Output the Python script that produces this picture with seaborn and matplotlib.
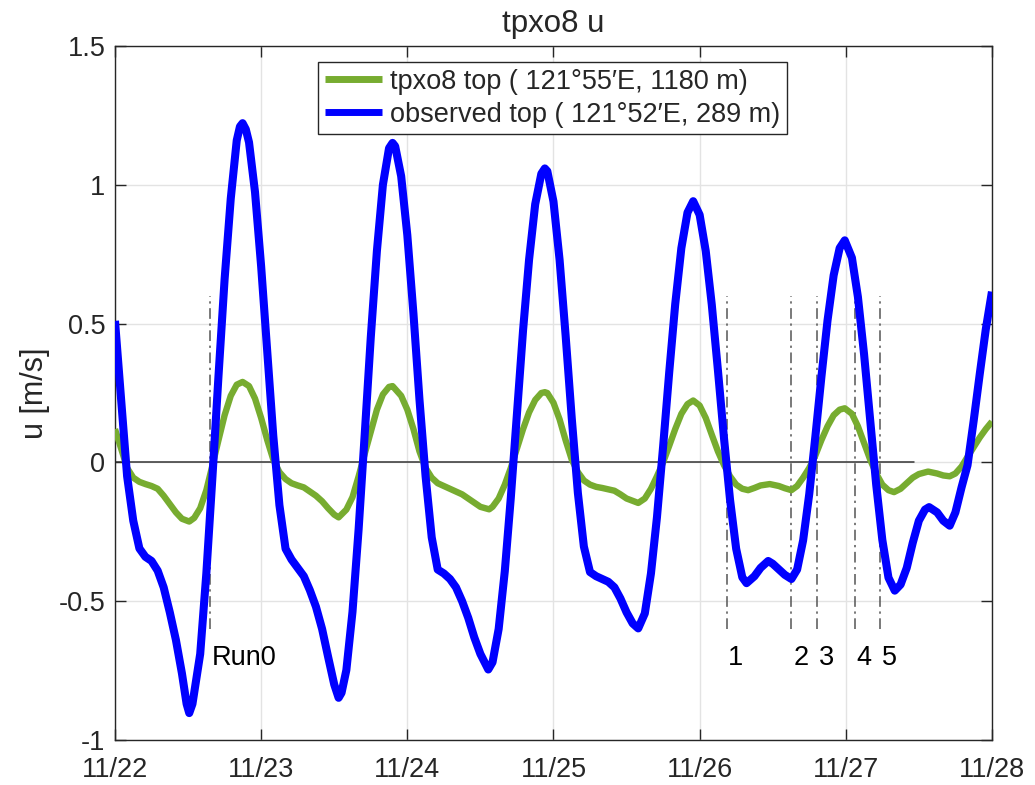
import numpy as np
import pandas as pd
import matplotlib
matplotlib.use("Agg")
import matplotlib.pyplot as plt
import seaborn as sns

# ---------------- data (days since 11/22 00:00) ----------------
obs_t = [0.000, 0.040, 0.083, 0.125, 0.167, 0.208, 0.250, 0.292, 0.333, 0.375,
         0.417, 0.458, 0.490, 0.508, 0.530, 0.583, 0.625, 0.667, 0.708, 0.750,
         0.792, 0.833, 0.855, 0.873, 0.895, 0.917, 0.958, 1.000, 1.042, 1.083,
         1.125, 1.167, 1.208, 1.250, 1.292, 1.333, 1.375, 1.417, 1.458, 1.500,
         1.530, 1.550, 1.583, 1.625, 1.667, 1.708, 1.750, 1.792, 1.833, 1.875,
         1.899, 1.917, 1.958, 2.000, 2.042, 2.083, 2.125, 2.167, 2.208, 2.250,
         2.292, 2.333, 2.375, 2.417, 2.458, 2.500, 2.554, 2.583, 2.625, 2.667,
         2.708, 2.750, 2.792, 2.833, 2.875, 2.917, 2.941, 2.958, 3.000, 3.042,
         3.083, 3.125, 3.167, 3.208, 3.250, 3.292, 3.333, 3.375, 3.417, 3.458,
         3.500, 3.542, 3.580, 3.625, 3.667, 3.708, 3.750, 3.792, 3.833, 3.875,
         3.917, 3.956, 4.000, 4.042, 4.083, 4.125, 4.167, 4.208, 4.250, 4.292,
         4.321, 4.375, 4.417, 4.469, 4.500, 4.542, 4.583, 4.628, 4.667, 4.708,
         4.750, 4.792, 4.833, 4.875, 4.917, 4.958, 4.993, 5.042, 5.083, 5.125,
         5.167, 5.208, 5.250, 5.292, 5.335, 5.375, 5.417, 5.458, 5.500, 5.542,
         5.570, 5.625, 5.667, 5.711, 5.750, 5.792, 5.833, 5.875, 5.917, 5.958,
         6.000]
obs_u = [0.51, 0.24, -0.05, -0.21, -0.31, -0.34, -0.355, -0.39, -0.45, -0.54,
         -0.64, -0.76, -0.87, -0.903, -0.87, -0.69, -0.40, -0.05, 0.31, 0.66,
         0.95, 1.16, 1.21, 1.222, 1.20, 1.153, 0.974, 0.706, 0.395, 0.096,
         -0.154, -0.311, -0.35, -0.38, -0.41, -0.46, -0.52, -0.60, -0.70, -0.80,
         -0.848, -0.83, -0.748, -0.538, -0.24, 0.096, 0.45, 0.762, 1.00, 1.132,
         1.151, 1.139, 1.031, 0.819, 0.536, 0.228, -0.05, -0.27, -0.386, -0.40,
         -0.42, -0.45, -0.50, -0.56, -0.63, -0.69, -0.746, -0.72, -0.60, -0.392,
         -0.128, 0.175, 0.476, 0.73, 0.93, 1.04, 1.059, 1.049, 0.94, 0.729,
         0.458, 0.16, -0.11, -0.303, -0.395, -0.41, -0.42, -0.43, -0.45, -0.49,
         -0.54, -0.58, -0.598, -0.544, -0.40, -0.198, 0.056, 0.325, 0.57, 0.772,
         0.90, 0.941, 0.892, 0.761, 0.569, 0.333, 0.086, -0.134, -0.311, -0.414,
         -0.435, -0.41, -0.38, -0.355, -0.365, -0.385, -0.405, -0.42, -0.386, -0.281,
         -0.114, 0.094, 0.307, 0.511, 0.674, 0.772, 0.80, 0.737, 0.596, 0.39,
         0.151, -0.08, -0.279, -0.415, -0.462, -0.44, -0.38, -0.29, -0.21, -0.17,
         -0.161, -0.18, -0.21, -0.228, -0.18, -0.09, -0.01, 0.15, 0.32, 0.48,
         0.615]

mod_t = [0.000, 0.042, 0.083, 0.125, 0.167, 0.208, 0.250, 0.292, 0.333, 0.375,
         0.417, 0.458, 0.508, 0.542, 0.583, 0.625, 0.667, 0.708, 0.750, 0.792,
         0.833, 0.873, 0.917, 0.958, 1.000, 1.042, 1.083, 1.125, 1.167, 1.208,
         1.250, 1.292, 1.333, 1.375, 1.417, 1.458, 1.500, 1.530, 1.583, 1.625,
         1.667, 1.708, 1.750, 1.792, 1.833, 1.875, 1.899, 1.958, 2.000, 2.042,
         2.083, 2.125, 2.167, 2.208, 2.250, 2.292, 2.333, 2.375, 2.417, 2.458,
         2.500, 2.560, 2.583, 2.625, 2.667, 2.708, 2.750, 2.792, 2.833, 2.875,
         2.917, 2.941, 2.958, 3.000, 3.042, 3.083, 3.125, 3.167, 3.208, 3.250,
         3.292, 3.333, 3.375, 3.417, 3.458, 3.500, 3.580, 3.625, 3.667, 3.708,
         3.750, 3.792, 3.833, 3.875, 3.917, 3.956, 4.000, 4.042, 4.083, 4.125,
         4.167, 4.208, 4.250, 4.292, 4.332, 4.375, 4.417, 4.480, 4.542, 4.583,
         4.628, 4.667, 4.708, 4.750, 4.792, 4.833, 4.875, 4.917, 4.958, 4.993,
         5.042, 5.083, 5.125, 5.167, 5.208, 5.250, 5.292, 5.330, 5.375, 5.417,
         5.458, 5.500, 5.563, 5.625, 5.667, 5.711, 5.750, 5.792, 5.833, 5.875,
         5.917, 5.958, 6.000]
mod_u = [0.12, 0.05, -0.02, -0.055, -0.07, -0.078, -0.085, -0.095, -0.12, -0.15,
         -0.18, -0.203, -0.213, -0.20, -0.165, -0.10, -0.01, 0.08, 0.17, 0.24,
         0.28, 0.29, 0.275, 0.23, 0.16, 0.08, 0.01, -0.035, -0.06, -0.075,
         -0.083, -0.09, -0.105, -0.12, -0.14, -0.165, -0.188, -0.198, -0.17, -0.125,
         -0.05, 0.03, 0.11, 0.19, 0.245, 0.272, 0.275, 0.24, 0.19, 0.12,
         0.04, -0.02, -0.055, -0.075, -0.085, -0.095, -0.105, -0.115, -0.13, -0.145,
         -0.16, -0.169, -0.16, -0.13, -0.08, -0.02, 0.05, 0.12, 0.18, 0.225,
         0.25, 0.253, 0.25, 0.215, 0.155, 0.08, 0.01, -0.035, -0.065, -0.08,
         -0.088, -0.092, -0.097, -0.102, -0.115, -0.13, -0.146, -0.13, -0.095, -0.05,
         0.0, 0.06, 0.12, 0.175, 0.21, 0.223, 0.205, 0.16, 0.10, 0.04,
         -0.01, -0.05, -0.08, -0.095, -0.10, -0.092, -0.083, -0.078, -0.085, -0.093,
         -0.10, -0.085, -0.055, -0.02, 0.025, 0.08, 0.13, 0.17, 0.19, 0.195,
         0.175, 0.13, 0.07, 0.01, -0.04, -0.08, -0.10, -0.107, -0.095, -0.075,
         -0.055, -0.042, -0.033, -0.04, -0.047, -0.05, -0.04, -0.015, 0.02, 0.055,
         0.09, 0.12, 0.147]

run_names = ["Run0", "1", "2", "3", "4", "5"]
run_times = [0.65, 4.184, 4.628, 4.806, 5.062, 5.233]

x_tick_pos = [0, 1, 2, 3, 4, 5, 6]
x_tick_labels = ["11/22", "11/23", "11/24", "11/25", "11/26", "11/27", "11/28"]
y_ticks = [-1, -0.5, 0, 0.5, 1, 1.5]
y_tick_labels = ["-1", "-0.5", "0", "0.5", "1", "1.5"]

label_mod = "tpxo8 top ( 121\u00b055\u2032E, 1180 m)"
label_obs = "observed top ( 121\u00b052\u2032E, 289 m)"

# ---------------- style ----------------
sns.set_theme(style="white")
plt.rcParams["font.family"] = ["Liberation Sans", "DejaVu Sans"]
plt.rcParams["axes.edgecolor"] = "#262626"
plt.rcParams["xtick.color"] = "#262626"
plt.rcParams["ytick.color"] = "#262626"

df_mod = pd.DataFrame({"t": mod_t, "u": mod_u})
df_obs = pd.DataFrame({"t": obs_t, "u": obs_u})

fig = plt.figure(figsize=(10.35, 7.85), dpi=100)
ax = fig.add_axes([0.1111, 0.0573, 0.8473, 0.8841])

ax.grid(True, color="#e3e3e3", linewidth=1.0, zorder=0)
ax.set_axisbelow(True)

# zero line
ax.plot([0, 5.465], [0, 0], color="#333333", linewidth=1.1, zorder=1.5)

# run markers
for name, rt in zip(run_names, run_times):
    ax.plot([rt, rt], [-0.6, 0.6], color="#555555", linewidth=1.1,
            linestyle=(0, (7, 3, 1.5, 3)), zorder=1.6)
    ax.text(rt + 0.012, -0.705, name, fontsize=19.5, ha="left", va="center",
            color="black", zorder=5)

sns.lineplot(data=df_mod, x="t", y="u", ax=ax, color="#77AC30", linewidth=4.6,
             sort=False, estimator=None, label=label_mod, zorder=3,
             solid_joinstyle="round", solid_capstyle="butt")
sns.lineplot(data=df_obs, x="t", y="u", ax=ax, color="#0000FF", linewidth=5.8,
             sort=False, estimator=None, label=label_obs, zorder=4,
             solid_joinstyle="round", solid_capstyle="butt")

ax.set_xlim(0, 6)
ax.set_ylim(-1, 1.5)
ax.set_xticks(x_tick_pos)
ax.set_xticklabels(x_tick_labels)
ax.set_yticks(y_ticks)
ax.set_yticklabels(y_tick_labels)
ax.tick_params(axis="both", which="major", direction="in", length=8, width=1.0,
               labelsize=19.5, top=True, right=True, bottom=True, left=True)
ax.tick_params(axis="x", pad=12)
ax.tick_params(axis="y", pad=7)
for s in ax.spines.values():
    s.set_visible(True)
    s.set_linewidth(1.0)
    s.set_color("#262626")

ax.set_xlabel("")
ax.set_ylabel("u [m/s]", fontsize=22, labelpad=6)
ax.set_title("tpxo8 u", fontsize=22.5, pad=10)

leg = ax.legend(loc="upper center", bbox_to_anchor=(0.499, 0.977), fontsize=19.5,
                frameon=True, fancybox=False, framealpha=1.0, edgecolor="#262626",
                handlelength=2.1, handletextpad=0.3, borderpad=0.25,
                labelspacing=0.25, borderaxespad=0.0)
leg.get_frame().set_linewidth(1.0)
for h in leg.get_lines():
    h.set_linewidth(5.0)

fig.savefig("out.png", dpi=100)
